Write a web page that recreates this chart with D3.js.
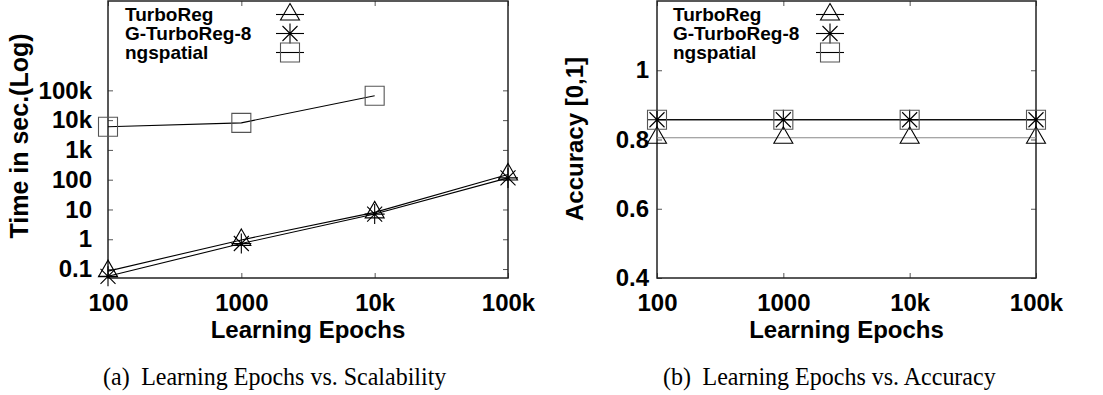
<!DOCTYPE html>
<html>
<head>
<meta charset="utf-8">
<script src="https://cdn.jsdelivr.net/npm/d3@7"></script>
<style>
  body { margin: 0; background: #fff; }
  svg { display: block; }
</style>
</head>
<body>
<div id="chart"></div>
<script>
const width = 1103;
const height = 395;

// shared x values
const epochs = [100, 1000, 10000, 100000];
const epochLabels = ['100', '1000', '10k', '100k'];
const seriesNames = ['TurboReg', 'G-TurboReg-8', 'ngspatial'];

// (a) time in seconds, log scale
const timeTurboReg = [0.085, 0.95, 8, 150];
const timeGTurboReg = [0.057, 0.72, 7, 115];
const timeNgspatial = [6000, 8100, 66000];
const timeTicks = [0.1, 1, 10, 100, 1000, 10000, 100000];
const timeTickLabels = ['0.1', '1', '10', '100', '1k', '10k', '100k'];

// (b) accuracy
const accTurboReg = [0.805, 0.805, 0.805, 0.805];
const accGTurboReg = [0.857, 0.857, 0.857, 0.857];
const accNgspatial = [0.857, 0.857, 0.857, 0.857];
const accTicks = [0.4, 0.6, 0.8, 1];
const accTickLabels = ['0.4', '0.6', '0.8', '1'];

const markers = {
  triangle: 'M0,-11L9.5,5.5L-9.5,5.5Z',
  star: 'M-10,0H10M0,-10V10M-7.5,-7.5L7.5,7.5M-7.5,7.5L7.5,-7.5',
  square: 'M-9.5,-9.5h19v19h-19Z'
};

const svg = d3.select('#chart').append('svg')
  .attr('width', width)
  .attr('height', height);

function drawPanel(p) {
  const g = svg.append('g');
  const x = d3.scaleLog().domain([100, 100000]).range([p.left, p.right]);
  const y = p.log
    ? d3.scaleLog().domain([0.05, 1e8]).range([p.bottom, p.top])
    : d3.scaleLinear().domain([0.4, 1.2]).range([p.bottom, p.top]);

  // ticks, gnuplot style (inward + mirrored)
  const axes = [
    [d3.axisLeft(y).tickValues(p.yTicks).tickFormat((d, i) => p.yLabels[i]).tickSize(-5).tickPadding(p.yPad), `translate(${p.left},0)`],
    [d3.axisRight(y).tickValues(p.yTicks).tickFormat('').tickSize(-5), `translate(${p.right},0)`],
    [d3.axisBottom(x).tickValues(epochs).tickFormat((d, i) => epochLabels[i]).tickSize(-5).tickPadding(16), `translate(0,${p.bottom})`],
    [d3.axisTop(x).tickValues(epochs).tickFormat('').tickSize(-5), `translate(0,${p.top})`]
  ];
  axes.forEach(([ax, tr]) => {
    const a = g.append('g').attr('transform', tr).call(ax);
    a.select('.domain').remove();
    a.selectAll('line').attr('stroke', '#555').attr('stroke-width', 1);
    a.selectAll('text')
      .attr('font-family', '"Liberation Sans", Arial, sans-serif')
      .attr('font-weight', 'bold')
      .attr('font-size', 24)
      .attr('fill', '#000');
  });

  g.append('rect')
    .attr('x', p.left).attr('y', p.top)
    .attr('width', p.right - p.left).attr('height', p.bottom - p.top)
    .attr('fill', 'none').attr('stroke', '#222').attr('stroke-width', 1.5);

  const line = d3.line().x((d, i) => x(epochs[i])).y(d => y(d));
  p.series.forEach(s => {
    g.append('path').datum(s.values)
      .attr('d', line)
      .attr('fill', 'none')
      .attr('stroke', s.lineColor)
      .attr('stroke-width', 1.1);
  });
  p.series.forEach(s => {
    g.selectAll(null).data(s.values).join('path')
      .attr('transform', (d, i) => `translate(${x(epochs[i])},${y(d)})`)
      .attr('d', markers[s.marker])
      .attr('fill', 'none')
      .attr('stroke', s.markColor)
      .attr('stroke-width', 1.1);
  });

  // legend
  p.series.forEach((s, i) => {
    const base = 21 + i * 19;
    g.append('text')
      .attr('x', p.legendX).attr('y', base)
      .attr('font-family', '"Liberation Sans", Arial, sans-serif')
      .attr('font-weight', 'bold').attr('font-size', 19)
      .text(s.name);
    const cy = base - 6.5;
    g.append('line')
      .attr('x1', p.sampleX - 14).attr('x2', p.sampleX + 14)
      .attr('y1', cy).attr('y2', cy)
      .attr('stroke', '#000').attr('stroke-width', 1.1);
    g.append('path')
      .attr('transform', `translate(${p.sampleX},${cy})`)
      .attr('d', markers[s.marker])
      .attr('fill', 'none').attr('stroke', s.markColor).attr('stroke-width', 1.1);
  });

  // axis titles
  g.append('text')
    .attr('x', (p.left + p.right) / 2).attr('y', 338)
    .attr('text-anchor', 'middle')
    .attr('font-family', '"Liberation Sans", Arial, sans-serif')
    .attr('font-weight', 'bold').attr('font-size', 24)
    .text('Learning Epochs');
  g.append('text')
    .attr('transform', `translate(${p.titleX},${p.titleY}) rotate(-90)`)
    .attr('text-anchor', 'middle')
    .attr('font-family', '"Liberation Sans", Arial, sans-serif')
    .attr('font-weight', 'bold').attr('font-size', p.titleSize)
    .text(p.yTitle);

  // caption (slightly condensed like the original)
  const cap = g.append('text')
    .attr('transform', `translate(${p.capX},385) scale(0.96,1)`)
    .attr('font-family', '"Liberation Serif", "Times New Roman", serif')
    .attr('font-size', 25);
  cap.append('tspan').text(p.capTag);
  cap.append('tspan').attr('dx', 12).text(p.capText);
}

drawPanel({
  left: 108, right: 508, top: 1, bottom: 278, log: true,
  yTicks: timeTicks, yLabels: timeTickLabels, yPad: 16,
  yTitle: 'Time in sec.(Log)', titleX: 28, titleY: 136, titleSize: 25,
  legendX: 125, sampleX: 290,
  capX: 103, capTag: '(a)', capText: 'Learning Epochs vs. Scalability',
  series: [
    { name: seriesNames[0], values: timeTurboReg, marker: 'triangle', lineColor: '#000', markColor: '#000' },
    { name: seriesNames[1], values: timeGTurboReg, marker: 'star', lineColor: '#000', markColor: '#000' },
    { name: seriesNames[2], values: timeNgspatial, marker: 'square', lineColor: '#000', markColor: '#555' }
  ]
});

drawPanel({
  left: 657, right: 1036, top: 1, bottom: 278, log: false,
  yTicks: accTicks, yLabels: accTickLabels, yPad: 8,
  yTitle: 'Accuracy [0,1]', titleX: 583, titleY: 139, titleSize: 24,
  legendX: 673, sampleX: 830,
  capX: 663, capTag: '(b)', capText: 'Learning Epochs vs. Accuracy',
  series: [
    { name: seriesNames[0], values: accTurboReg, marker: 'triangle', lineColor: '#888', markColor: '#000' },
    { name: seriesNames[1], values: accGTurboReg, marker: 'star', lineColor: '#000', markColor: '#000' },
    { name: seriesNames[2], values: accNgspatial, marker: 'square', lineColor: '#000', markColor: '#555' }
  ]
});
</script>
</body>
</html>
